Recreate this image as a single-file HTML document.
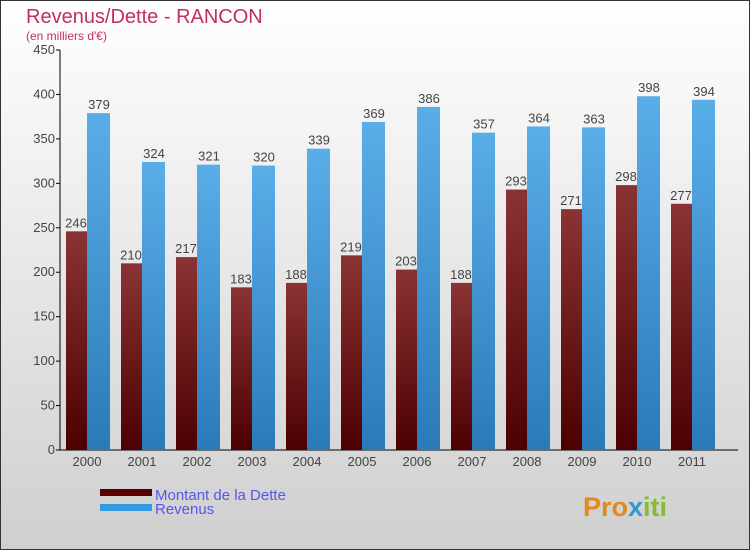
<!DOCTYPE html>
<html><head><meta charset="utf-8"><style>
body{margin:0}
svg{display:block;font-family:"Liberation Sans",sans-serif}
</style></head><body>
<svg width="750" height="550" viewBox="0 0 750 550">
<defs>
<linearGradient id="bg" x1="0" y1="0" x2="0" y2="1"><stop offset="0" stop-color="#ffffff"/><stop offset="1" stop-color="#cfcfcf"/></linearGradient>
<linearGradient id="gd" x1="0" y1="0" x2="0" y2="1"><stop offset="0" stop-color="#8a3335"/><stop offset="1" stop-color="#4d0000"/></linearGradient>
<linearGradient id="gr" x1="0" y1="0" x2="0" y2="1"><stop offset="0" stop-color="#5aaee8"/><stop offset="1" stop-color="#2a7ab8"/></linearGradient>
</defs>
<rect x="0.5" y="0.5" width="749" height="549" fill="url(#bg)" stroke="#333"/>
<text x="26" y="23" font-size="20" fill="#c0305f">Revenus/Dette - RANCON</text>
<text x="26" y="40" font-size="12" fill="#c0305f">(en milliers d'€)</text>
<g id="plot"></g>
<g>
<rect x="100" y="489" width="52" height="7" fill="#5a0000"/>
<text x="155" y="500" font-size="15" fill="#5555ee">Montant de la Dette</text>
<rect x="100" y="504" width="52" height="7" fill="#3399e0"/>
<text x="155" y="514" font-size="15" fill="#5555ee">Revenus</text>
</g>
<text x="583" y="516" font-size="27" font-weight="bold" fill="#e08a20">Pro<tspan fill="#3399cc">x</tspan><tspan fill="#88bb33">iti</tspan></text>
</svg>
<script>
const years=["2000","2001","2002","2003","2004","2005","2006","2007","2008","2009","2010","2011"];
const dette=[246,210,217,183,188,219,203,188,293,271,298,277];
const revenus=[379,324,321,320,339,369,386,357,364,363,398,394];
const yTicks=[0,50,100,150,200,250,300,350,400,450];
const NS="http://www.w3.org/2000/svg";
const g=document.getElementById('plot');
const y=v=>450-v*400/450;
const x0=i=>66+i*55;
function mk(t,a,txt){const e=document.createElementNS(NS,t);for(const k in a)e.setAttribute(k,a[k]);if(txt!==undefined)e.textContent=txt;g.appendChild(e);return e;}
let e=mk('line',{x1:60,y1:50,x2:60,y2:450,stroke:'#000'});


e=mk('line',{x1:60,y1:450,x2:738,y2:450,stroke:'#000'});


yTicks.forEach(v=>{
 e=mk('line',{x1:56,y1:y(v),x2:60,y2:y(v),stroke:'#000'});
 
 
 e=mk('text',{x:55,y:y(v)+4,'font-size':13,fill:'#444','text-anchor':'end'},String(v));
 
 
});
years.forEach((yr,i)=>{
 const x=x0(i);
 e=mk('rect',{x:x,y:y(dette[i]),width:21,height:450-y(dette[i]),fill:'url(#gd)'});
 
 
 e=mk('rect',{x:x+21,y:y(revenus[i]),width:23,height:450-y(revenus[i]),fill:'url(#gr)'});
 
 
 e=mk('text',{x:x+10,y:y(dette[i])-4,'font-size':13,fill:'#444','text-anchor':'middle'},String(dette[i]));
 
 
 e=mk('text',{x:x+33,y:y(revenus[i])-4,'font-size':13,fill:'#444','text-anchor':'middle'},String(revenus[i]));
 
 
 e=mk('text',{x:x+21,y:466,'font-size':13,fill:'#444','text-anchor':'middle'},yr);
 
 
});
</script>
</body></html>
